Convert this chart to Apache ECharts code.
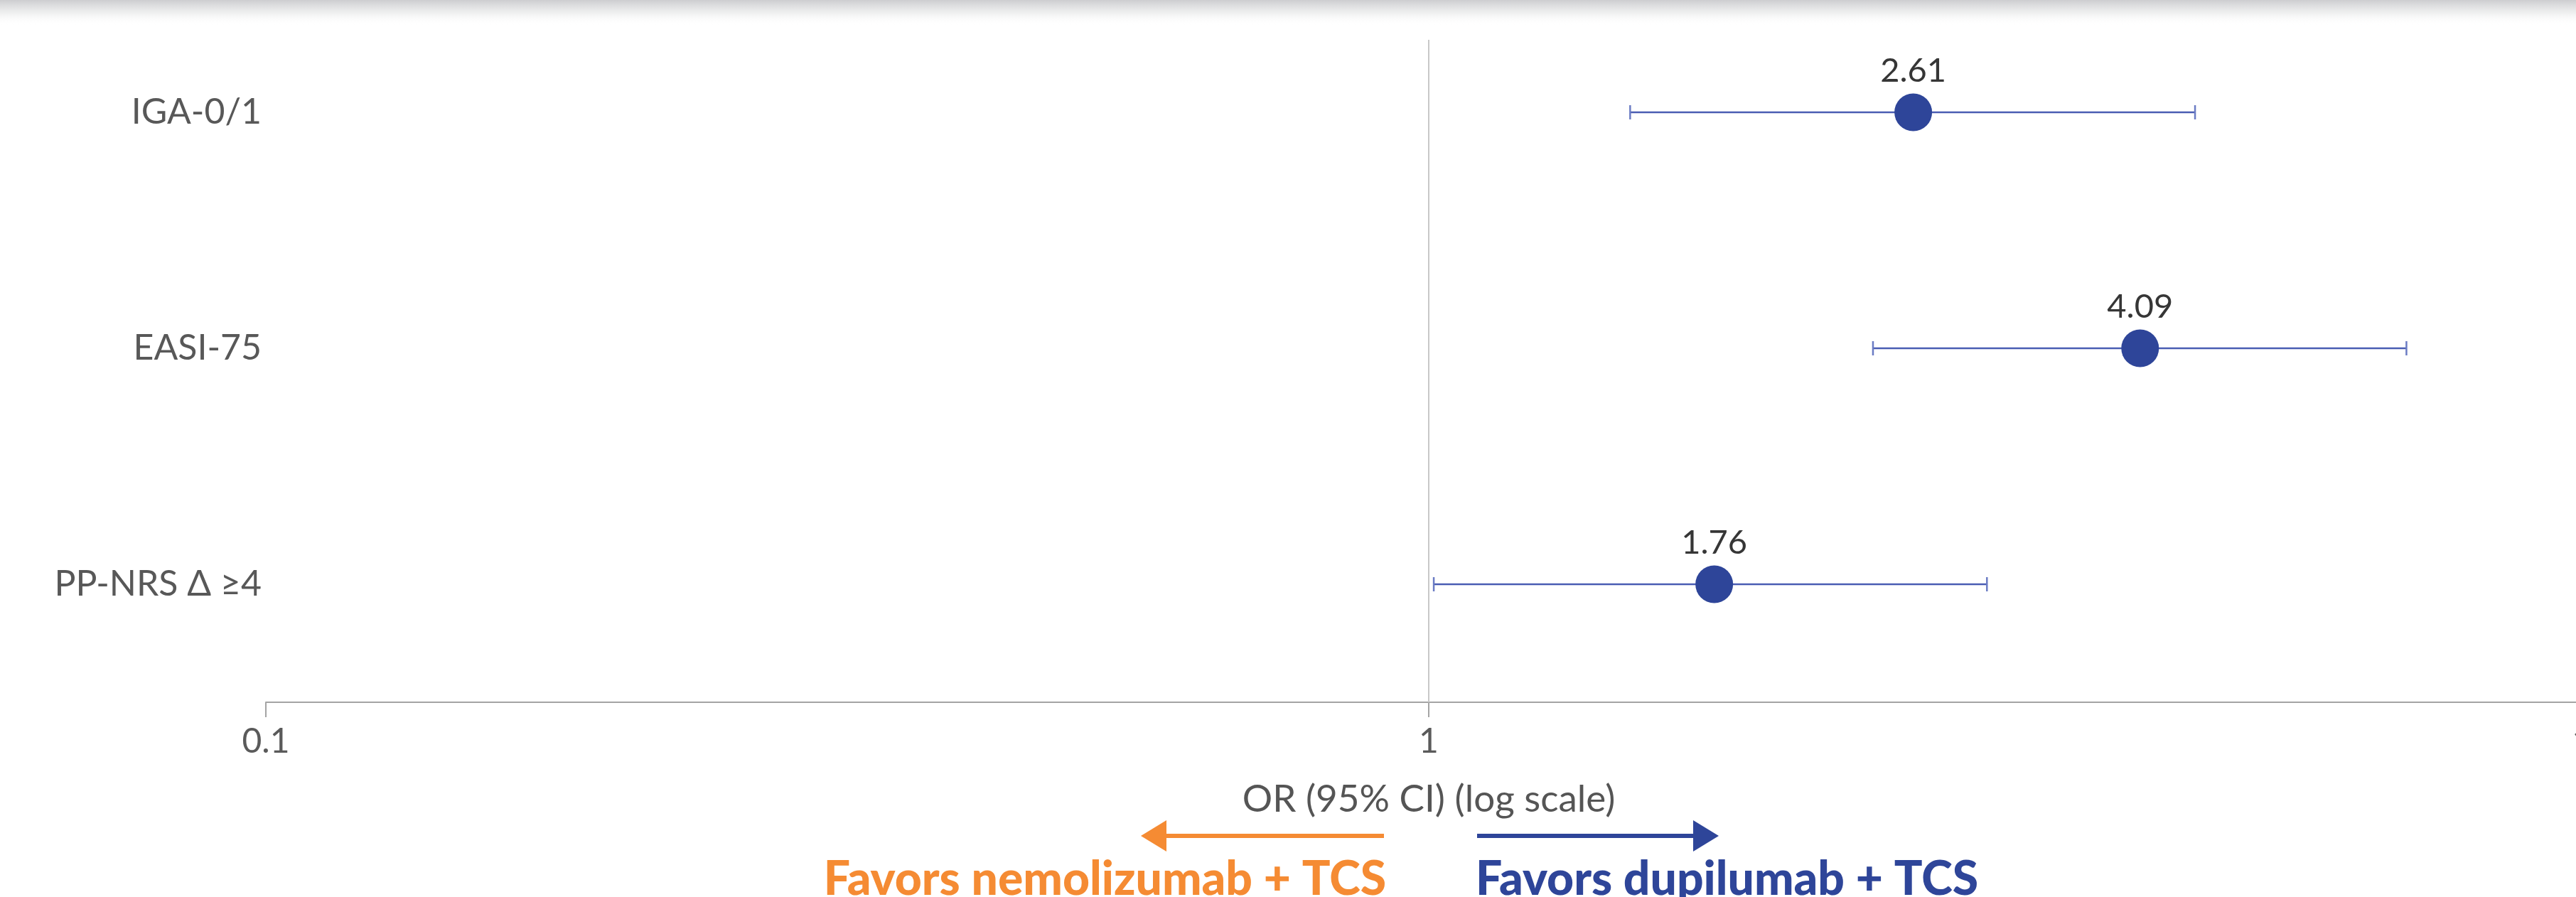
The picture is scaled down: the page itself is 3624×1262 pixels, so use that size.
<!DOCTYPE html>
<html>
<head>
<meta charset="utf-8">
<script src="https://cdn.jsdelivr.net/npm/echarts@6/dist/echarts.min.js"></script>
<style>
html,body{margin:0;padding:0;background:#ffffff;}
#chart{width:3624px;height:1262px;}
</style>
</head>
<body>
<div id="chart"></div>
<script>
// ---- data ----
const categories = ['IGA-0/1', 'EASI-75', 'PP-NRS \u0394 \u22654'];
const oddsRatio = [2.61, 4.09, 1.76];
const ciLower = [1.49, 2.41, 1.01];
const ciUpper = [4.56, 6.93, 3.02];
const xTickValues = [0.1, 1, 10];
const axisTitle = 'OR (95% CI) (log scale)';
const favorLeft = 'Favors nemolizumab + TCS';
const favorRight = 'Favors dupilumab + TCS';

const FONT = 'Lato';
const BLUE = '#2e4599';
const ORANGE = '#f58b33';

const chart = echarts.init(document.getElementById('chart'));

const pointData = oddsRatio.map((v, i) => [v, i + 1]);
const ciData = oddsRatio.map((v, i) => [ciLower[i], ciUpper[i], i + 1]);

const option = {
  animation: false,
  backgroundColor: '#ffffff',
  grid: { left: 374, right: -22, top: -8, bottom: 274, containLabel: false, outerBoundsMode: 'none' },
  xAxis: {
    type: 'log',
    logBase: 10,
    min: 0.1,
    max: 10,
    axisLine: { show: true, lineStyle: { color: '#a4a4a4', width: 2 } },
    axisTick: { show: true, length: 21, lineStyle: { color: '#a4a4a4', width: 2 } },
    splitLine: { show: false },
    axisLabel: {
      fontFamily: FONT, fontSize: 48, color: '#5a5a5a', margin: 32,
      formatter: v => String(+(+v).toPrecision(3))
    },
    name: axisTitle,
    nameLocation: 'middle',
    nameGap: 110,
    nameTextStyle: { fontFamily: FONT, fontSize: 53, color: '#555555' }
  },
  yAxis: {
    type: 'value',
    inverse: true,
    min: 0.5,
    max: 3.5,
    interval: 0.5,
    axisLine: { show: false },
    axisTick: { show: false },
    splitLine: { show: false },
    axisLabel: {
      fontFamily: FONT, fontSize: 50, color: '#585858', margin: 6,
      padding: [0, 0, 26, 0],
      formatter: v => Number.isInteger(v) && v >= 1 && v <= categories.length ? categories[v - 1] : ''
    }
  },
  series: [
    {
      type: 'custom',
      name: 'CI',
      data: ciData,
      z: 2,
      renderItem: function (params, api) {
        const lo = api.coord([api.value(0), api.value(2)]);
        const hi = api.coord([api.value(1), api.value(2)]);
        const cap = 10;
        return {
          type: 'group',
          children: [
            { type: 'line', shape: { x1: lo[0], y1: lo[1], x2: hi[0], y2: hi[1] },
              style: { stroke: '#4a5db3', lineWidth: 2.5 } },
            { type: 'line', shape: { x1: lo[0], y1: lo[1] - cap, x2: lo[0], y2: lo[1] + cap },
              style: { stroke: '#6b7cc4', lineWidth: 2.5 } },
            { type: 'line', shape: { x1: hi[0], y1: hi[1] - cap, x2: hi[0], y2: hi[1] + cap },
              style: { stroke: '#6b7cc4', lineWidth: 2.5 } }
          ]
        };
      },
      markLine: {
        silent: true,
        symbol: 'none',
        label: { show: false },
        lineStyle: { color: '#c8c8c8', width: 2, type: 'solid' },
        data: [[{ coord: [1, 0.693] }, { coord: [1, 3.5] }]]
      }
    },
    {
      type: 'scatter',
      name: 'OR',
      data: pointData,
      z: 3,
      symbol: 'circle',
      symbolSize: 53,
      itemStyle: { color: BLUE, opacity: 1 },
      label: {
        show: true,
        position: 'top',
        distance: 8,
        fontFamily: FONT,
        fontSize: 47,
        color: '#363636',
        formatter: p => p.value[0].toFixed(2)
      }
    }
  ]
};
chart.setOption(option);

// annotations placed relative to the x = 1 position
const x1 = chart.convertToPixel({ xAxisIndex: 0 }, 1);
const arrowY = 1176;
const headLen = 36, headHalf = 22, lw = 6;
chart.setOption({
  graphic: [
    {
      type: 'rect', left: 0, top: 0, z: 100,
      shape: { width: 3624, height: 36 },
      style: {
        fill: new echarts.graphic.LinearGradient(0, 0, 0, 1, [
          { offset: 0, color: 'rgba(205,205,208,1)' },
          { offset: 0.5, color: 'rgba(235,236,236,0.8)' },
          { offset: 1, color: 'rgba(255,255,255,0)' }
        ])
      },
      silent: true
    },
    // left arrow (orange)
    { type: 'line', shape: { x1: x1 - 63, y1: arrowY, x2: x1 - 405 + headLen - 2, y2: arrowY },
      style: { stroke: ORANGE, lineWidth: lw }, silent: true },
    { type: 'polygon', shape: { points: [[x1 - 405, arrowY], [x1 - 405 + headLen, arrowY - headHalf], [x1 - 405 + headLen, arrowY + headHalf]] },
      style: { fill: ORANGE }, silent: true },
    // right arrow (blue)
    { type: 'line', shape: { x1: x1 + 68, y1: arrowY, x2: x1 + 408 - headLen + 2, y2: arrowY },
      style: { stroke: BLUE, lineWidth: lw }, silent: true },
    { type: 'polygon', shape: { points: [[x1 + 408, arrowY], [x1 + 408 - headLen, arrowY - headHalf], [x1 + 408 - headLen, arrowY + headHalf]] },
      style: { fill: BLUE }, silent: true },
    // captions
    { type: 'text', x: x1 - 60, y: 1238, silent: true,
      style: { text: favorLeft, fill: ORANGE, fontSize: 66, fontWeight: 900, fontFamily: FONT, align: 'right', verticalAlign: 'middle' } },
    { type: 'text', x: x1 + 66, y: 1238, silent: true,
      style: { text: favorRight, fill: BLUE, fontSize: 66, fontWeight: 900, fontFamily: FONT, align: 'left', verticalAlign: 'middle' } }
  ]
});
</script>
</body>
</html>
